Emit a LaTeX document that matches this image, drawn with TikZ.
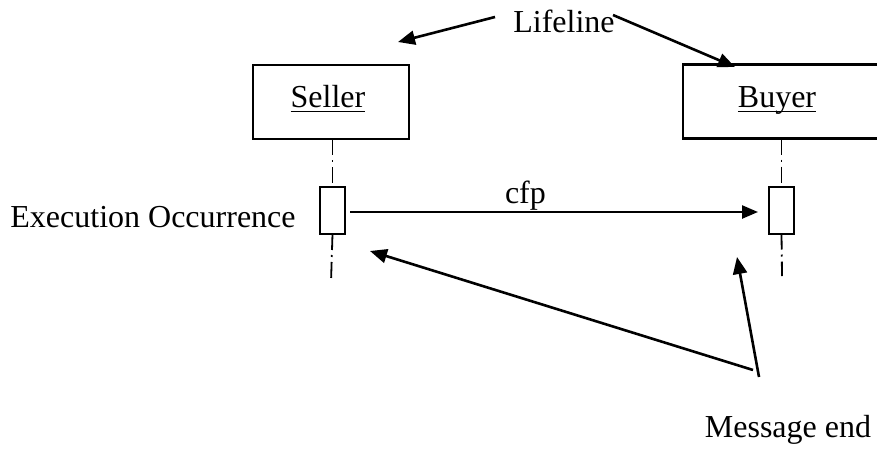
\documentclass[tikz,border=0pt]{standalone}
\usepackage{fontspec}
\setmainfont{Liberation Serif}
\usetikzlibrary{arrows.meta}
% word with a thin rule just under the baseline
\newcommand\ulword[1]{\setbox0\hbox{#1}\rlap{\rule[-2.6pt]{\wd0}{0.8pt}}\box0}
\begin{document}
\begin{tikzpicture}[x=0.5pt,y=-0.5pt,
  every node/.style={font=\fontsize{16}{19}\selectfont, inner sep=0pt, outer sep=0pt},
  objbox/.style={line width=1.1pt, minimum height=37pt},
  execbox/.style={draw, line width=1pt, minimum width=12.5pt, minimum height=23.5pt},
  lifeline/.style={line width=0.9pt, dash pattern=on 8pt off 2.5pt on 1pt off 2.5pt},
  msg/.style={line width=1.2pt, -{Triangle[length=8pt,width=6.5pt]}},
  note/.style={line width=1.3pt, -{Triangle[length=8.5pt,width=7pt]}}
]
\useasboundingbox (0,0) rectangle (877,450);

% objects (the buyer box runs on past the right margin, so its right side is not drawn)
\node[objbox, draw, minimum width=78pt] (seller) at (331,102) {};
\node[objbox, minimum width=120pt] (buyer) at (803,101.5) {};
\draw[line width=1.1pt] (buyer.north east) -- (buyer.north west)
  -- (buyer.south west) -- (buyer.south east);
\node[anchor=base] (sellerlbl) at (328,107) {\ulword{Seller}};
\node[anchor=base] (buyerlbl) at (777,107) {\ulword{Buyer}};

% execution occurrences
\node[execbox] (sexec) at (332.5,210.5) {};
\node[execbox] (bexec) at (781.5,210) {};

% lifelines
\coordinate (send) at (331,282);
\coordinate (bend) at (782,276);
\draw[lifeline] (seller.south -| sexec.north) -- (sexec.north);
\draw[lifeline] (sexec.south) -- (send);
\draw[lifeline] (buyer.south -| bexec.north) -- (bexec.north);
\draw[lifeline] (bexec.south) -- (bend);

% message
\draw[msg] ([xshift=2.5pt,yshift=-0.75pt]sexec.east) -- ([xshift=-5.5pt,yshift=-1pt]bexec.west)
  node[pos=0.43, anchor=base, yshift=4.5pt] (cfp) {cfp};

% annotations
\node[anchor=base] (lifelinelbl) at (564,32) {Lifeline};
\node[anchor=base] (execlbl) at (153,227) {Execution Occurrence};
\node[anchor=base] (msgendlbl) at (788,437) {Message end};

\coordinate (lfa) at (495,17);
\coordinate (lfb) at (613,15);
\coordinate (lta) at (398,42);
\coordinate (ltb) at (735,67);
\draw[note] (lfa) -- (lta);
\draw[note] (lfb) -- (ltb);

\coordinate (mfa) at (753,370);
\coordinate (mfb) at (759,377);
\coordinate (mta) at (370,251);
\coordinate (mtb) at (737,257);
\draw[note] (mfa) -- (mta);
\draw[note] (mfb) -- (mtb);
\end{tikzpicture}
\end{document}
